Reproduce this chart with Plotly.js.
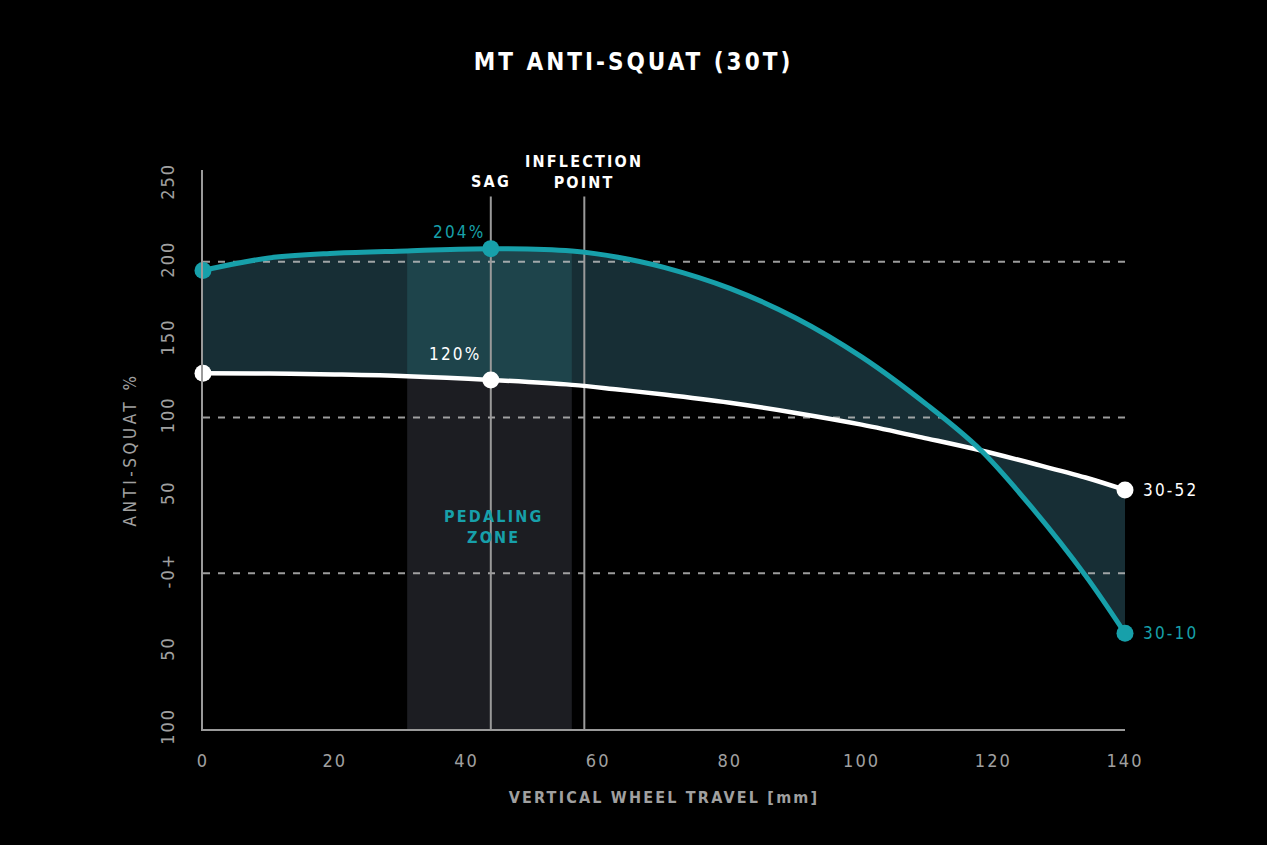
<!DOCTYPE html>
<html>
<head>
<meta charset="utf-8">
<script src="https://cdn.plot.ly/plotly-3.0.1.min.js"></script>
<style>
  html, body { margin: 0; padding: 0; background: #000; }
  #graph { width: 1267px; height: 845px; }
  .gtitle { letter-spacing: 3px; }
  .xtitle { letter-spacing: 2.2px; }
  .ytitle { letter-spacing: 3.5px; }
  .xtick text, .ytick text { letter-spacing: 2px; }
  .annotation-text { letter-spacing: 2.2px; }
</style>
</head>
<body>
<div id="graph"></div>
<script>
// wheel travel (mm) and anti-squat (%)
var travel = [0, 10, 20, 31, 43.7, 56, 63, 70, 80, 90, 100, 110, 118, 126, 134, 140];
var small30_10 = [194.5, 202.5, 205.5, 207, 208.5, 207, 203, 196.5, 183, 164, 139, 108, 79.5, 41.5, -1.5, -38.5];
var big30_52 = [128.5, 128.3, 127.7, 126.6, 124.2, 121, 118, 114.8, 109.5, 103, 95.5, 86.5, 79, 70.5, 61.5, 53.5];

var markerIdx = [0, 4, 15];        // start, sag, end
var pedalZone = [31, 56];
var sagTravel = 43.7;
var inflectionTravel = 57.9;
var refLevels = [0, 100, 200];

var yTickVals = [-100, -50, 0, 50, 100, 150, 200, 250];
var yTickText = ['100', '50', '-0+', '50', '100', '150', '200', '250'];
var xTickVals = [0, 20, 40, 60, 80, 100, 120, 140];

var TEAL = '#17a0aa';
var GREY = '#a0a0a0';
var FONT = '"DejaVu Sans Condensed", "Liberation Sans Narrow", "Roboto", sans-serif';

var yMin = -100, yMax = 259, markTop = 242;

function pick(arr, idx) { return idx.map(function (i) { return arr[i]; }); }

var zoneIdx = [];
travel.forEach(function (t, i) {
  if (t >= pedalZone[0] && t <= pedalZone[1]) zoneIdx.push(i);
});
var zoneX = pick(travel, zoneIdx);

function fillTrace(x, y, extra) {
  return Object.assign({
    x: x, y: y, type: 'scatter', mode: 'lines',
    line: {width: 0, shape: 'spline'}, hoverinfo: 'skip', showlegend: false
  }, extra || {});
}

// dashed reference levels, one trace with gaps
var refX = [], refY = [];
refLevels.forEach(function (v) {
  refX.push(0, 140, null);
  refY.push(v, v, null);
});

var vX = [sagTravel, sagTravel, null, inflectionTravel, inflectionTravel];
var vY = [yMin, markTop, null, yMin, markTop];

var data = [
  // band between the two gears
  fillTrace(travel, big30_52),
  fillTrace(travel, small30_10, {fill: 'tonexty', fillcolor: '#172e35'}),
  // pedaling zone
  fillTrace(zoneX, zoneX.map(function () { return yMin; }), {line: {width: 0}}),
  fillTrace(zoneX, pick(big30_52, zoneIdx), {fill: 'tonexty', fillcolor: '#1c1d22'}),
  fillTrace(zoneX, pick(small30_10, zoneIdx), {fill: 'tonexty', fillcolor: '#1e444b'}),
  {
    x: refX, y: refY, type: 'scatter', mode: 'lines', hoverinfo: 'skip', showlegend: false,
    line: {color: 'rgba(195,195,195,0.8)', width: 2, dash: '7px,8px'}
  },
  {
    x: vX, y: vY, type: 'scatter', mode: 'lines', hoverinfo: 'skip', showlegend: false,
    cliponaxis: false, line: {color: '#9a9a9a', width: 2}
  },
  {
    x: travel, y: big30_52, type: 'scatter', mode: 'lines', name: '30-52', showlegend: false,
    line: {color: '#ffffff', width: 4.5, shape: 'spline'}
  },
  {
    x: travel, y: small30_10, type: 'scatter', mode: 'lines', name: '30-10', showlegend: false,
    line: {color: TEAL, width: 5, shape: 'spline'}
  },
  {
    x: pick(travel, markerIdx), y: pick(big30_52, markerIdx), type: 'scatter', mode: 'markers',
    showlegend: false, cliponaxis: false, marker: {color: '#ffffff', size: 17}
  },
  {
    x: pick(travel, markerIdx), y: pick(small30_10, markerIdx), type: 'scatter', mode: 'markers',
    showlegend: false, cliponaxis: false, marker: {color: TEAL, size: 17}
  }
];

function label(text, x, y, color, size, weight, extra) {
  return Object.assign({
    text: text, x: x, y: y, xref: 'x', yref: 'y', showarrow: false,
    font: {family: FONT, size: size, color: color, weight: weight}
  }, extra || {});
}

var annotations = [
  label('SAG', sagTravel, 251.5, '#ffffff', 16, 'bold'),
  label('INFLECTION<br>POINT', inflectionTravel, 258, '#ffffff', 16, 'bold'),
  label('204%', 38.9, 219, TEAL, 17, 'normal'),
  label('120%', 38.3, 141, '#ffffff', 17, 'normal'),
  label('PEDALING<br>ZONE', sagTravel + 0.4, 30, TEAL, 16, 'bold'),
  label('30-52', 140, big30_52[15], '#ffffff', 17, 'normal', {xanchor: 'left', xshift: 16}),
  label('30-10', 140, small30_10[15], TEAL, 17, 'normal', {xanchor: 'left', xshift: 16})
];

var layout = {
  width: 1267,
  height: 845,
  paper_bgcolor: '#000000',
  plot_bgcolor: '#000000',
  margin: {l: 203, r: 142, t: 170, b: 116},
  showlegend: false,
  title: {
    text: 'MT ANTI-SQUAT (30T)',
    x: 0.5, xref: 'container', xanchor: 'center',
    y: 1 - 62 / 845, yref: 'container', yanchor: 'middle',
    font: {family: FONT, size: 24, color: '#ffffff', weight: 'bold'}
  },
  xaxis: {
    range: [0, 140],
    tickvals: xTickVals,
    ticks: '',
    ticklabelstandoff: 14,
    tickfont: {family: FONT, size: 18, color: GREY},
    showgrid: false, zeroline: false,
    showline: true, linecolor: '#9a9a9a', linewidth: 2,
    title: {
      text: 'VERTICAL WHEEL TRAVEL [mm]', standoff: 22,
      font: {family: FONT, size: 16, color: GREY, weight: 'bold'}
    }
  },
  yaxis: {
    range: [yMin, yMax],
    tickvals: yTickVals,
    ticktext: yTickText,
    tickangle: -90,
    ticks: '',
    ticklabelstandoff: 20,
    tickfont: {family: FONT, size: 18, color: GREY},
    showgrid: false, zeroline: false,
    showline: true, linecolor: '#9a9a9a', linewidth: 2,
    title: {
      text: 'ANTI-SQUAT %', standoff: 16,
      font: {family: FONT, size: 17, color: GREY, weight: 'normal'}
    }
  },
  annotations: annotations
};

Plotly.newPlot('graph', data, layout, {displayModeBar: false, staticPlot: true});
</script>
</body>
</html>
